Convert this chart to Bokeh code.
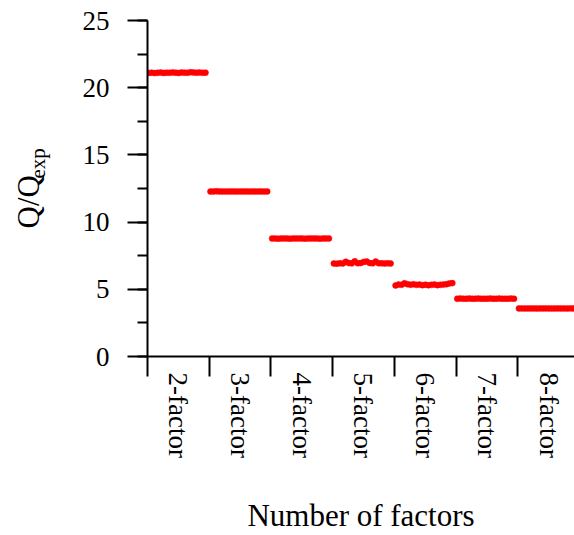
import math
from bokeh.plotting import figure
from bokeh.layouts import row
from bokeh.models import FixedTicker, SingleIntervalTicker, ColumnDataSource
from bokeh.core.properties import value
from bokeh.embed import file_html
from bokeh.resources import INLINE

# ---- data ----
factor_labels = ["2-factor", "3-factor", "4-factor", "5-factor", "6-factor", "7-factor", "8-factor"]

q_2factor = [21.10, 21.12, 21.09, 21.11, 21.13, 21.10, 21.12, 21.11, 21.14, 21.12,
             21.10, 21.13, 21.12, 21.11, 21.15, 21.13, 21.12, 21.13, 21.11, 21.12]
q_3factor = [12.27, 12.28, 12.29, 12.28, 12.28, 12.27, 12.28, 12.28, 12.28, 12.27,
             12.28, 12.28, 12.28, 12.27, 12.28, 12.28, 12.28, 12.28, 12.27, 12.28]
q_4factor = [8.78, 8.78, 8.77, 8.78, 8.78, 8.78, 8.77, 8.78, 8.78, 8.78,
             8.78, 8.77, 8.78, 8.78, 8.78, 8.78, 8.77, 8.78, 8.78, 8.78]
q_5factor = [6.92, 6.91, 6.93, 6.92, 7.05, 6.95, 6.93, 7.08, 6.94, 6.95,
             7.04, 7.07, 6.95, 6.93, 7.06, 6.94, 6.93, 6.92, 6.93, 6.92]
q_6factor = [5.28, 5.35, 5.33, 5.45, 5.38, 5.34, 5.37, 5.33, 5.35, 5.31,
             5.34, 5.30, 5.33, 5.36, 5.31, 5.33, 5.35, 5.38, 5.44, 5.46]
q_7factor = [4.30, 4.31, 4.30, 4.30, 4.31, 4.30, 4.30, 4.31, 4.30, 4.30,
             4.30, 4.31, 4.30, 4.30, 4.31, 4.30, 4.30, 4.30, 4.31, 4.30]
q_8factor = [3.58, 3.58, 3.57, 3.58, 3.58, 3.58, 3.57, 3.58, 3.58, 3.58,
             3.58, 3.57, 3.58, 3.58, 3.58, 3.58, 3.57, 3.58, 3.58, 3.58]

series = [q_2factor, q_3factor, q_4factor, q_5factor, q_6factor, q_7factor, q_8factor]

# runs of each solution are spread over the width of their factor slot
xs, ys = [], []
for k, vals in enumerate(series):
    n = len(vals)
    for i, v in enumerate(vals):
        xs.append(k + 0.02 + 0.92 * i / (n - 1))
        ys.append(v)
src = ColumnDataSource(dict(x=xs, y=ys))

FONT = "Liberation Serif"
TITLE_W = 60
H = 535
FRAME_TOP, FRAME_BOTTOM = 20, 356   # frame edges in page pixels (rows align frames)

# ---- narrow panel holding the rotated y-axis title with subscript ----
# its frame is aligned with the main plot's frame; range set so 1 unit = 1 px,
# with y measured upward from the page bottom.
t = figure(width=TITLE_W, height=H, output_backend="svg", toolbar_location=None,
           x_range=(0, TITLE_W), y_range=(H - FRAME_BOTTOM, H - FRAME_TOP),
           x_axis_location=None, y_axis_location=None, title=None,
           min_border=0, min_border_left=0, min_border_right=0,
           min_border_top=FRAME_TOP, min_border_bottom=H - FRAME_BOTTOM)
t.grid.visible = False
t.outline_line_color = None
t.background_fill_color = "white"
t.border_fill_color = "white"
t.text(x=[28], y=[H - 228], text=["Q/Q"], angle=math.pi / 2,
       text_font=value(FONT), text_font_size="31px", text_color="black",
       text_baseline="alphabetic", text_align="left")
t.text(x=[37], y=[H - 178], text=["exp"], angle=math.pi / 2,
       text_font=value(FONT), text_font_size="21px", text_color="black",
       text_baseline="alphabetic", text_align="left")

# ---- main plot ----
p = figure(width=574 - TITLE_W, height=H, output_backend="svg", toolbar_location=None,
           x_range=(0, 6.92), y_range=(0, 25),
           min_border_left=147 - TITLE_W, min_border_right=0, min_border_top=FRAME_TOP,
           min_border_bottom=H - FRAME_BOTTOM)
p.background_fill_color = "white"
p.border_fill_color = "white"
p.outline_line_color = None
p.xgrid.visible = False
p.ygrid.visible = False

p.scatter("x", "y", source=src, size=6, marker="circle",
          fill_color="#ff0000", line_color="#ff0000", line_width=0.5)

# x axis: labels centred in each slot, separator ticks as minor ticks
xa = p.xaxis[0]
centers = [k + 0.5 for k in range(len(factor_labels))]
xa.ticker = FixedTicker(ticks=centers, minor_ticks=list(range(len(factor_labels) + 1)))
xa.major_label_overrides = {c: lab for c, lab in zip(centers, factor_labels)}
xa.major_label_orientation = -math.pi / 2
xa.major_tick_out = 0
xa.major_tick_in = 0
xa.minor_tick_out = 20
xa.minor_tick_in = 0
xa.minor_tick_line_color = "black"
xa.minor_tick_line_width = 2
xa.axis_line_width = 2
xa.axis_line_color = "black"
xa.major_label_standoff = -4
xa.major_label_text_font = FONT
xa.major_label_text_font_size = "27px"
xa.major_label_text_color = "black"
xa.axis_label = "Number of factors"
xa.axis_label_text_font = FONT
xa.axis_label_text_font_size = "31px"
xa.axis_label_text_font_style = "normal"
xa.axis_label_text_color = "black"
xa.axis_label_standoff = 37

ya = p.yaxis[0]
ya.ticker = SingleIntervalTicker(interval=5, num_minor_ticks=2)
ya.major_tick_out = 20
ya.major_tick_in = 0
ya.minor_tick_out = 10
ya.minor_tick_in = 0
ya.major_tick_line_width = 2
ya.minor_tick_line_width = 2
ya.major_tick_line_color = "black"
ya.minor_tick_line_color = "black"
ya.axis_line_width = 2
ya.axis_line_color = "black"
ya.major_label_standoff = 18
ya.major_label_text_font = FONT
ya.major_label_text_font_size = "27px"
ya.major_label_text_color = "black"

layout = row(t, p, spacing=0)
open("out.html", "w").write(file_html(layout, INLINE))
